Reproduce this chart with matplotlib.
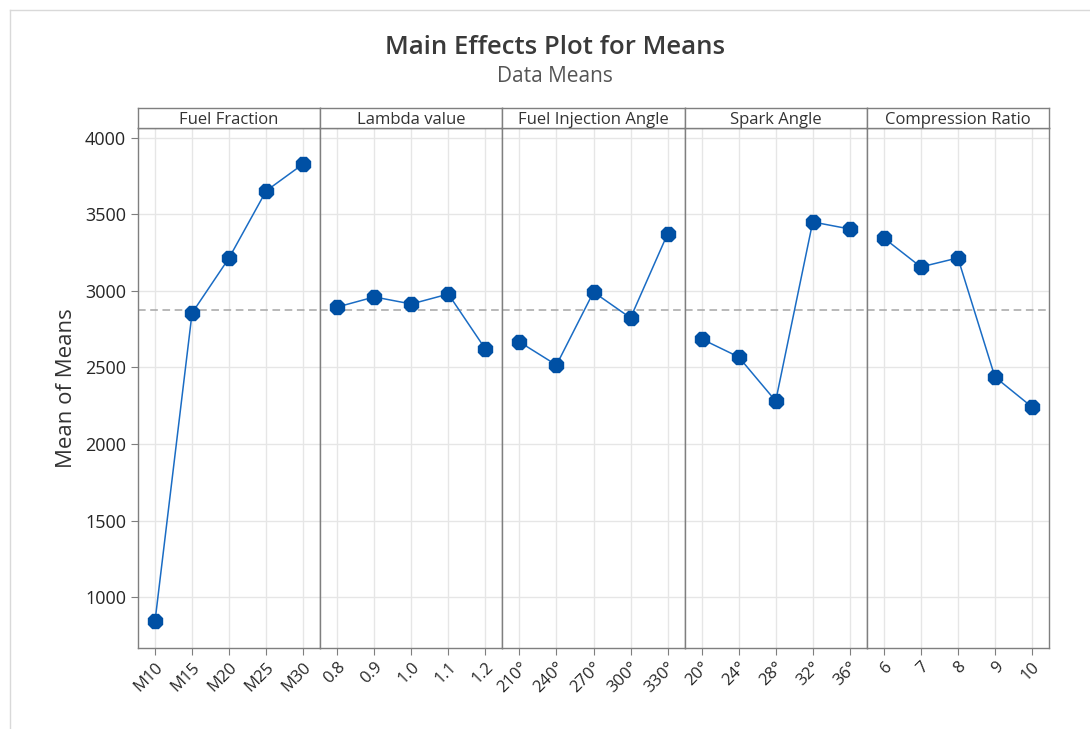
import numpy as np
import matplotlib.pyplot as plt
from matplotlib.lines import Line2D

plt.rcParams['font.family'] = ['Open Sans', 'DejaVu Sans']

# Factores e níveis
factors = ['Fuel Fraction', 'Lambda value', 'Fuel Injection Angle', 'Spark Angle', 'Compression Ratio']
levels = [
    ['M10', 'M15', 'M20', 'M25', 'M30'],
    ['0.8', '0.9', '1.0', '1.1', '1.2'],
    ['210°', '240°', '270°', '300°', '330°'],
    ['20°', '24°', '28°', '32°', '36°'],
    ['6', '7', '8', '9', '10'],
]
fuel_fraction = [843, 2856, 3216, 3654, 3830]
lambda_value = [2895, 2961, 2915, 2980, 2621]
injection_angle = [2667, 2516, 2993, 2824, 3373]
spark_angle = [2686, 2569, 2281, 3451, 3405]
compression_ratio = [3346, 3157, 3216, 2438, 2242]
means = [fuel_fraction, lambda_value, injection_angle, spark_angle, compression_ratio]
grand_mean = 2877
yticks = [1000, 1500, 2000, 2500, 3000, 3500, 4000]

W, H = 1090, 729
fig = plt.figure(figsize=(W / 100, H / 100), dpi=100)

# moldura da janela
fig.add_artist(Line2D([10 / W, 1], [1 - 10 / H, 1 - 10 / H], color='#d9d9d9', lw=1))
fig.add_artist(Line2D([10 / W, 10 / W], [0, 1 - 10 / H], color='#d9d9d9', lw=1))

left, right = 138 / W, 1049 / W
bottom, top = 1 - 648 / H, 1 - 128 / H
strip_h = 20 / H
pw = (right - left) / len(factors)

frame = '#7f7f7f'
line_c = '#1a6cc4'
mark_c = '#0050a4'
txt = '#262626'

for i, (name, labs, vals) in enumerate(zip(factors, levels, means)):
    ax = fig.add_axes([left + i * pw, bottom, pw, top - bottom])
    x = np.arange(len(labs))
    ax.axhline(grand_mean, color='#a6a6a6', lw=1.1, ls=(0, (5, 3)), zorder=2)
    ax.plot(x, vals, color=line_c, lw=1.1, marker='8', ms=11, mfc=mark_c, mec=mark_c, zorder=3)
    ax.set_xlim(-0.46, 4.46)
    ax.set_ylim(667, 4065)
    ax.set_xticks(x)
    ax.set_xticklabels(labs, rotation=45, ha='right', rotation_mode='anchor',
                       fontsize=12, color=txt)
    ax.set_yticks(yticks)
    ax.grid(True, color='#e6e6e6', lw=1, zorder=0)
    ax.set_axisbelow(True)
    for s in ax.spines.values():
        s.set_color(frame)
        s.set_linewidth(1)
    ax.tick_params(axis='x', color=frame, length=5, pad=3)
    if i == 0:
        ax.tick_params(axis='y', color=frame, length=5, labelsize=13, labelcolor=txt)
        ax.set_ylabel('Mean of Means', fontsize=16, color='#333333', labelpad=6)
    else:
        ax.tick_params(axis='y', left=False, labelleft=False)

    # faixa com o nome do factor
    sax = fig.add_axes([left + i * pw, top, pw, strip_h])
    sax.set_xticks([])
    sax.set_yticks([])
    for s in sax.spines.values():
        s.set_color(frame)
        s.set_linewidth(1)
    sax.text(0.5, 0.42, name, ha='center', va='center', fontsize=12,
             color='#333333', transform=sax.transAxes)

fig.text(555 / W, 1 - 47 / H, 'Main Effects Plot for Means', ha='center', va='center',
         fontsize=18.5, fontweight='semibold', color='#3a3a3a')
fig.text(555 / W, 1 - 76 / H, 'Data Means', ha='center', va='center',
         fontsize=15, color='#555555')

fig.savefig('out.png', dpi=100)
